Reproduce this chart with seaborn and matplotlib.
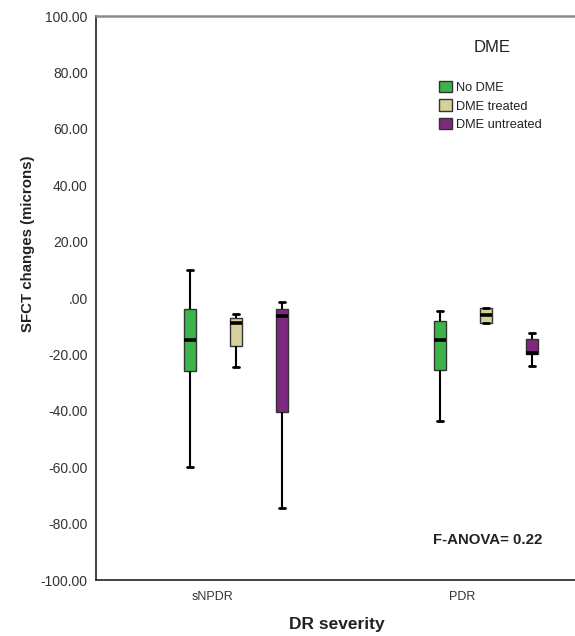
import numpy as np
import pandas as pd
import matplotlib
matplotlib.use("Agg")
import matplotlib.pyplot as plt
import matplotlib.patches as mpatches
import seaborn as sns

# ---- data (five-number summaries) ----
categories = ["sNPDR", "PDR"]
groups = ["No DME", "DME treated", "DME untreated"]
snpdr_no_dme = [-60, -26, -15, -4, 10]
snpdr_dme_treated = [-24.5, -17, -9, -7, -5.5]
snpdr_dme_untreated = [-74.5, -40.5, -6.5, -4, -1.5]
pdr_no_dme = [-43.5, -25.5, -15, -8, -4.5]
pdr_dme_treated = [-9, -9, -6, -3.5, -3.5]
pdr_dme_untreated = [-24, -20, -19.5, -14.5, -12.5]
yticks = [-100, -80, -60, -40, -20, 0, 20, 40, 60, 80, 100]
colors = ["#3cb44b", "#d8d09a", "#7d2a7e"]
anova_text = "F-ANOVA= 0.22"

series = {
    ("sNPDR", "No DME"): snpdr_no_dme,
    ("sNPDR", "DME treated"): snpdr_dme_treated,
    ("sNPDR", "DME untreated"): snpdr_dme_untreated,
    ("PDR", "No DME"): pdr_no_dme,
    ("PDR", "DME treated"): pdr_dme_treated,
    ("PDR", "DME untreated"): pdr_dme_untreated,
}
rows = []
for (cat, grp), vals in series.items():
    for v in vals:
        rows.append({"DR severity": cat, "DME": grp, "val": v})
df = pd.DataFrame(rows)

sns.set_style("white")
plt.rcParams["font.family"] = ["Liberation Sans", "DejaVu Sans"]

fig = plt.figure(figsize=(5.75, 6.36), dpi=100)
ax = fig.add_axes([96 / 575, 1 - 580 / 636, 1 - 96 / 575, (580 - 16) / 636])

sns.boxplot(data=df, x="DR severity", y="val", hue="DME", order=categories,
            hue_order=groups, palette=colors, width=0.552, gap=0.74,
            whis=(0, 100), saturation=1, linecolor="#333333", linewidth=1,
            medianprops=dict(color="black", linewidth=2.6),
            whiskerprops=dict(color="black", linewidth=1.5),
            capprops=dict(color="black", linewidth=2),
            legend=False, ax=ax)

ax.set_xlim(-0.56, 1.356)
ax.set_ylim(-100, 100)
ax.set_yticks(yticks)
ax.set_yticklabels([("%.2f" % t) if t != 0 else ".00" for t in yticks])
tick_offset = 0.094
ax.set_xticks([i - tick_offset for i in range(len(categories))])
ax.set_xticklabels(categories)
ax.tick_params(axis="both", direction="out", length=5, width=1.2,
               colors="#222222", labelcolor="#333333")
ax.tick_params(axis="y", pad=1, labelsize=10)
ax.tick_params(axis="x", pad=3, labelsize=9)

for s in ["left", "bottom"]:
    ax.spines[s].set_color("#222222")
    ax.spines[s].set_linewidth(1.2)
ax.spines["top"].set_color("#8a8a8a")
ax.spines["top"].set_linewidth(1.8)
ax.spines["right"].set_visible(False)

ax.set_ylabel("SFCT changes (microns)", fontsize=10.8, fontweight="bold", color="#222222")
ax.yaxis.set_label_coords(-0.128, 0.597)
ax.set_xlabel("DR severity", fontsize=12.5, fontweight="bold", color="#222222")
ax.xaxis.set_label_coords(0.503, -0.066)

ax.text(0.788, -85.8, anova_text, fontsize=10.8, fontweight="bold",
        color="#222222", ha="left", va="center")

# legend
fig.text(492 / 575, 1 - 48 / 636, "DME", fontsize=12, ha="center", va="center",
         color="#222222")
handles = [mpatches.Patch(facecolor=c, edgecolor="#333333", linewidth=1, label=g)
           for c, g in zip(colors, groups)]
leg = fig.legend(handles=handles, loc="upper left",
                 bbox_to_anchor=(439 / 575, 1 - 81 / 636), frameon=False,
                 fontsize=9.2, handlelength=1.0, handleheight=1.0,
                 handletextpad=0.35, labelspacing=0.42, borderpad=0,
                 borderaxespad=0)
for t in leg.get_texts():
    t.set_color("#222222")

fig.savefig("out.png", dpi=100)
